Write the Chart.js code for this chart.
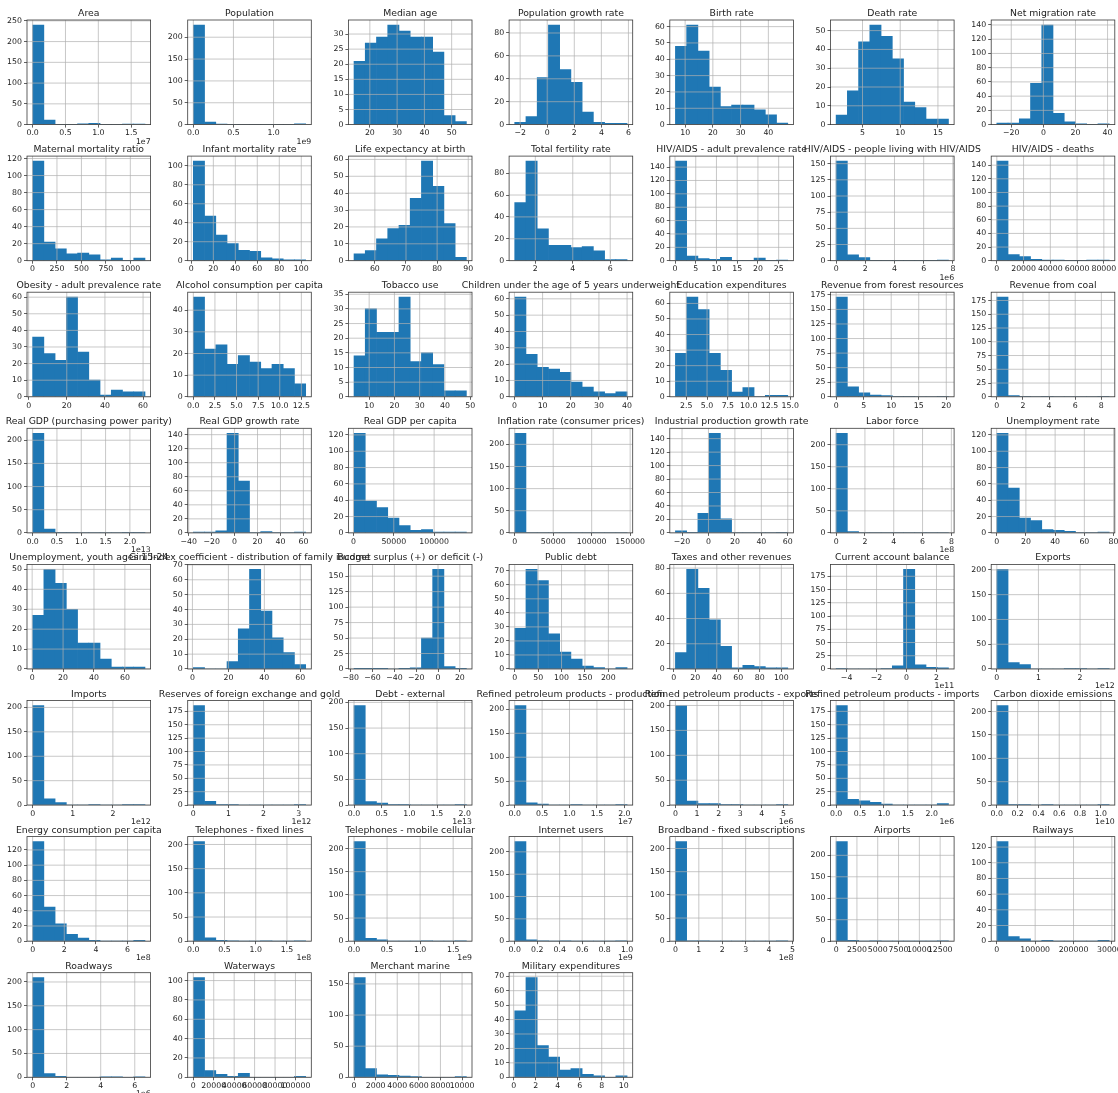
<!DOCTYPE html>
<html>
<head>
<meta charset="utf-8">
<title>Country indicators — histograms</title>
<script src="https://cdn.jsdelivr.net/npm/chart.js@4.4.1/dist/chart.umd.min.js"></script>
<style>
  html, body { margin: 0; padding: 0; background: #fff; overflow: hidden; }
  #grid { position: relative; width: 1118px; height: 1093px; overflow: hidden; background: #fff; }
  #grid canvas { position: absolute; }
</style>
</head>
<body>
<div id="grid"></div>
<script>
// ---- data: one entry per indicator, 10 equal-width bins between dataMin and dataMax ----
const titles = [
  'Area', 'Population', 'Median age', 'Population growth rate', 'Birth rate', 'Death rate', 'Net migration rate',
  'Maternal mortality ratio', 'Infant mortality rate', 'Life expectancy at birth', 'Total fertility rate',
  'HIV/AIDS - adult prevalence rate', 'HIV/AIDS - people living with HIV/AIDS', 'HIV/AIDS - deaths',
  'Obesity - adult prevalence rate', 'Alcohol consumption per capita', 'Tobacco use',
  'Children under the age of 5 years underweight', 'Education expenditures', 'Revenue from forest resources', 'Revenue from coal',
  'Real GDP (purchasing power parity)', 'Real GDP growth rate', 'Real GDP per capita', 'Inflation rate (consumer prices)',
  'Industrial production growth rate', 'Labor force', 'Unemployment rate',
  'Unemployment, youth ages 15-24', 'Gini Index coefficient - distribution of family income', 'Budget surplus (+) or deficit (-)',
  'Public debt', 'Taxes and other revenues', 'Current account balance', 'Exports',
  'Imports', 'Reserves of foreign exchange and gold', 'Debt - external', 'Refined petroleum products - production',
  'Refined petroleum products - exports', 'Refined petroleum products - imports', 'Carbon dioxide emissions',
  'Energy consumption per capita', 'Telephones - fixed lines', 'Telephones - mobile cellular', 'Internet users',
  'Broadband - fixed subscriptions', 'Airports', 'Railways',
  'Roadways', 'Waterways', 'Merchant marine', 'Military expenditures'
];

// bin counts (10 bins each)
const counts = [
  [240, 11, 0, 0, 2, 3, 0, 0, 1, 1],
  [228, 6, 1, 0, 0, 0, 0, 0, 0, 2],
  [21, 27, 29, 33, 31, 29, 29, 24, 3, 1],
  [2, 7, 41, 87, 48, 37, 11, 2, 1, 1],
  [48, 61, 45, 23, 11, 12, 12, 9, 6, 1],
  [5, 18, 44, 53, 47, 35, 12, 9, 3, 3],
  [2, 2, 8, 58, 140, 16, 4, 1, 0, 1],

  [117, 22, 14, 8, 9, 7, 1, 3, 0, 3],
  [105, 47, 27, 18, 11, 10, 3, 2, 1, 1],
  [4, 6, 13, 19, 21, 37, 59, 44, 22, 2],
  [53, 91, 29, 14, 14, 12, 13, 9, 1, 1],
  [149, 7, 3, 2, 5, 0, 0, 4, 0, 1],
  [154, 9, 5, 0, 0, 0, 0, 0, 0, 1],
  [146, 9, 6, 2, 1, 1, 0, 0, 1, 1],

  [36, 26, 22, 60, 27, 10, 1, 4, 3, 3],
  [46, 22, 24, 15, 19, 16, 13, 15, 13, 6],
  [14, 30, 22, 22, 34, 12, 15, 11, 2, 2],
  [61, 26, 18, 17, 15, 9, 6, 3, 2, 3],
  [28, 64, 56, 28, 17, 3, 6, 0, 1, 1],
  [171, 17, 7, 3, 2, 1, 1, 0, 0, 1],
  [181, 2, 1, 0, 1, 0, 0, 0, 0, 1],

  [215, 8, 1, 1, 0, 0, 0, 0, 1, 1],
  [1, 1, 3, 142, 74, 0, 2, 0, 0, 1],
  [122, 39, 31, 18, 9, 3, 4, 1, 1, 1],
  [225, 0, 0, 0, 0, 0, 0, 0, 0, 1],
  [3, 1, 29, 148, 21, 0, 0, 0, 0, 1],
  [226, 3, 0, 0, 0, 0, 1, 0, 0, 1],
  [122, 55, 18, 15, 4, 3, 2, 0, 0, 1],

  [27, 50, 43, 30, 13, 13, 5, 1, 1, 1],
  [1, 0, 0, 5, 27, 67, 39, 21, 11, 3],
  [1, 1, 1, 0, 1, 2, 50, 161, 4, 1],
  [29, 71, 63, 25, 12, 7, 2, 1, 0, 1],
  [13, 79, 64, 39, 18, 1, 3, 2, 1, 1],
  [1, 0, 0, 0, 1, 6, 188, 8, 3, 2],
  [201, 13, 9, 0, 0, 0, 1, 1, 0, 1],

  [204, 13, 5, 0, 0, 1, 0, 0, 1, 1],
  [186, 7, 1, 1, 0, 0, 0, 0, 0, 1],
  [194, 7, 4, 1, 1, 0, 0, 0, 0, 1],
  [208, 5, 2, 0, 0, 1, 0, 0, 0, 1],
  [200, 8, 3, 3, 1, 1, 0, 0, 0, 1],
  [186, 11, 8, 5, 2, 0, 0, 0, 0, 3],
  [213, 1, 1, 0, 1, 0, 0, 0, 0, 1],

  [131, 45, 23, 9, 4, 1, 0, 0, 0, 1],
  [206, 7, 2, 1, 0, 0, 1, 0, 0, 1],
  [215, 6, 3, 0, 0, 0, 1, 0, 0, 1],
  [223, 3, 1, 0, 1, 0, 0, 0, 0, 1],
  [215, 1, 1, 0, 0, 0, 0, 0, 0, 1],
  [232, 2, 0, 1, 0, 0, 0, 0, 0, 1],
  [127, 6, 3, 0, 1, 0, 0, 0, 0, 1],

  [209, 8, 2, 0, 0, 0, 1, 1, 0, 1],
  [103, 7, 3, 1, 4, 0, 0, 0, 0, 1],
  [160, 14, 4, 3, 2, 1, 0, 0, 0, 1],
  [46, 69, 22, 14, 5, 6, 2, 1, 0, 1]
];

// lower and upper edge of the binned range, in axis units (after the offset factor)
const dataMin = [
  0, 0, 14.2, -2.4, 6.5, 1.5, -29,
  1, 1.8, 53.3, 0.9, 0.1, 0, 0,
  2.1, 0, 4, 0.1, 1.2, 0, 0,
  0, -36, 700, -3, -25, 0, 0.1,
  0.3, 0.5, -77, 0, 1.5, -4.7, 0,
  0, 0, 0, 0, 0, 0, 0,
  0, 0, 0, 0, 0, 0, 0,
  0, 0, 0, 0.1
];
const dataMax = [
  1.71, 1.4, 55.4, 5.9, 47, 16.4, 41,
  1150, 104, 89.4, 6.9, 27.2, 7.7, 84000,
  61, 13, 48.5, 40, 14.7, 20.4, 8.6,
  2.31, 62, 140000, 146000, 60, 7.8, 77,
  73, 63, 26, 240, 106, 2.8, 2.7,
  2.8, 3.2, 2.03, 2.05, 5.2, 2.35, 1.08,
  7.1, 1.8, 1.7, 1.0, 4.8, 13500, 293000,
  6.6, 110000, 10400, 10.3
];

// x-axis tick values
const xTicks = [
  [0, 0.5, 1, 1.5], [0, 0.5, 1], [20, 30, 40, 50], [-2, 0, 2, 4, 6], [10, 20, 30, 40], [5, 10, 15], [-20, 0, 20, 40],
  [0, 250, 500, 750, 1000], [0, 20, 40, 60, 80, 100], [60, 70, 80, 90], [2, 4, 6], [0, 5, 10, 15, 20, 25], [0, 2, 4, 6, 8], [0, 20000, 40000, 60000, 80000],
  [0, 20, 40, 60], [0, 2.5, 5, 7.5, 10, 12.5], [10, 20, 30, 40, 50], [0, 10, 20, 30, 40], [2.5, 5, 7.5, 10, 12.5, 15], [0, 5, 10, 15, 20], [0, 2, 4, 6, 8],
  [0, 0.5, 1, 1.5, 2], [-40, -20, 0, 20, 40, 60], [0, 50000, 100000], [0, 50000, 100000, 150000], [-20, 0, 20, 40, 60], [0, 2, 4, 6, 8], [0, 20, 40, 60, 80],
  [0, 20, 40, 60], [0, 20, 40, 60], [-80, -60, -40, -20, 0, 20], [0, 50, 100, 150, 200], [0, 20, 40, 60, 80, 100], [-4, -2, 0, 2], [0, 1, 2],
  [0, 1, 2], [0, 1, 2, 3], [0, 0.5, 1, 1.5, 2], [0, 0.5, 1, 1.5, 2], [0, 1, 2, 3, 4, 5], [0, 0.5, 1, 1.5, 2], [0, 0.2, 0.4, 0.6, 0.8, 1],
  [0, 2, 4, 6], [0, 0.5, 1, 1.5], [0, 0.5, 1, 1.5], [0, 0.2, 0.4, 0.6, 0.8, 1], [0, 1, 2, 3, 4, 5], [0, 2500, 5000, 7500, 10000, 12500], [0, 100000, 200000, 300000],
  [0, 2, 4, 6], [0, 20000, 40000, 60000, 80000, 100000], [0, 2000, 4000, 6000, 8000, 10000], [0, 2, 4, 6, 8, 10]
];

// y-axis tick spacing
const yStep = [
  50, 50, 5, 20, 10, 10, 20,
  20, 20, 10, 20, 20, 25, 20,
  10, 10, 5, 10, 10, 25, 25,
  50, 20, 20, 50, 20, 50, 20,
  10, 10, 25, 10, 20, 25, 50,
  50, 25, 50, 50, 50, 25, 50,
  20, 50, 50, 50, 50, 50, 20,
  50, 20, 50, 10
];

// scale factor printed under the x axis
const offsetLabels = [
  '1e7', '1e9', '', '', '', '', '',
  '', '', '', '', '', '1e6', '',
  '', '', '', '', '', '', '',
  '1e13', '', '', '', '', '1e8', '',
  '', '', '', '', '', '1e11', '1e12',
  '1e12', '1e12', '1e13', '1e7', '1e6', '1e6', '1e10',
  '1e8', '1e8', '1e9', '1e9', '1e8', '', '',
  '1e6', '', '', ''
];

// ---- layout & style ----
const COLS = 7;
const AX_LEFT0 = 27, COL_PITCH = 160.7, AX_W = 123.6;
const AX_TOP0 = 20, ROW_PITCH = 136.1, AX_H = 104.6;
const SIDE = 62, TOP_SPACE = 17, BOTTOM_SPACE = 28;
const Y_AXIS_W = 30, X_AXIS_H = 19;
const BAR = '#1f77b4', GRID = '#b0b0b0', SPINE = '#3a3a3a', TEXT = '#222';
const TITLE_FS = 9.3, TICK_FS = 7.8;
const FONT = "'DejaVu Sans', sans-serif";

Chart.defaults.font.family = FONT;

function tickText(vals) {
  const dec = vals.some(v => Math.abs(v - Math.round(v)) > 1e-9) ? 1 : 0;
  return vals.map(v => v.toFixed(dec).replace('-', '\u2212'));
}

// grid drawn over the bars, axes frame, title and offset factor
const histDecor = {
  id: 'histDecor',
  afterDatasetsDraw(chart) {
    const { ctx, chartArea: a, scales: { x, y } } = chart;
    ctx.save();
    ctx.beginPath();
    ctx.rect(a.left, a.top, a.right - a.left, a.bottom - a.top);
    ctx.clip();
    ctx.strokeStyle = GRID;
    ctx.lineWidth = 0.7;
    ctx.beginPath();
    x.ticks.forEach(t => {
      const px = x.getPixelForValue(t.value);
      ctx.moveTo(px, a.top); ctx.lineTo(px, a.bottom);
    });
    y.ticks.forEach(t => {
      const py = y.getPixelForValue(t.value);
      ctx.moveTo(a.left, py); ctx.lineTo(a.right, py);
    });
    ctx.stroke();
    ctx.restore();

    ctx.save();
    ctx.strokeStyle = SPINE;
    ctx.lineWidth = 0.8;
    ctx.strokeRect(a.left, a.top, a.right - a.left, a.bottom - a.top);
    ctx.restore();
  },
  afterDraw(chart, args, opts) {
    const { ctx, chartArea: a } = chart;
    ctx.save();
    ctx.fillStyle = TEXT;
    ctx.font = TITLE_FS + 'px ' + FONT;
    ctx.textAlign = 'center';
    ctx.textBaseline = 'alphabetic';
    ctx.fillText(opts.title, (a.left + a.right) / 2, a.top - 4);
    if (opts.offset) {
      ctx.font = TICK_FS + 'px ' + FONT;
      ctx.textAlign = 'right';
      ctx.textBaseline = 'middle';
      ctx.fillText(opts.offset, a.right, a.bottom + 17);
    }
    ctx.restore();
  }
};

const host = document.getElementById('grid');

titles.forEach((title, i) => {
  const r = Math.floor(i / COLS), c = i % COLS;
  const axLeft = AX_LEFT0 + c * COL_PITCH;
  const axTop = AX_TOP0 + r * ROW_PITCH;
  const cvLeft = Math.floor(axLeft - SIDE);
  const cvTop = Math.floor(axTop - TOP_SPACE);
  const cvW = Math.ceil(AX_W + 2 * SIDE) + 2;
  const cvH = Math.ceil(TOP_SPACE + AX_H + BOTTOM_SPACE) + 2;
  const padLeft = axLeft - cvLeft - Y_AXIS_W;
  const padTop = axTop - cvTop;
  const padRight = cvW - (axLeft - cvLeft) - AX_W;
  const padBottom = cvH - padTop - AX_H - X_AXIS_H;

  const cv = document.createElement('canvas');
  cv.width = cvW; cv.height = cvH;
  cv.style.left = cvLeft + 'px'; cv.style.top = cvTop + 'px';
  cv.style.width = cvW + 'px'; cv.style.height = cvH + 'px';
  host.appendChild(cv);

  const lo = dataMin[i], hi = dataMax[i], span = hi - lo, bw = span / 10;
  const xMin = lo - 0.05 * span, xMax = hi + 0.05 * span;
  const xt = xTicks[i].filter(v => v >= xMin && v <= xMax);
  const xl = tickText(xt);
  const yMax = Math.max(...counts[i]) * 1.05;
  const yt = [];
  for (let v = 0; v <= yMax; v += yStep[i]) yt.push(v);

  new Chart(cv, {
    type: 'bar',
    data: {
      datasets: [{
        data: counts[i].map((n, k) => ({ x: lo + (k + 0.5) * bw, y: n })),
        backgroundColor: BAR,
        borderWidth: 0,
        barPercentage: 1,
        categoryPercentage: 1
      }]
    },
    options: {
      responsive: false,
      animation: false,
      devicePixelRatio: 1,
      events: [],
      layout: { padding: { left: padLeft, right: padRight, top: padTop, bottom: padBottom } },
      plugins: {
        legend: { display: false },
        tooltip: { enabled: false },
        title: { display: false },
        histDecor: { title: title, offset: offsetLabels[i] }
      },
      scales: {
        x: {
          type: 'linear',
          offset: false,
          min: xMin,
          max: xMax,
          border: { display: false },
          grid: { offset: false, drawOnChartArea: false, drawTicks: true, tickLength: 3, tickColor: SPINE, lineWidth: 0.8 },
          ticks: {
            font: { size: TICK_FS }, color: TEXT, padding: 1,
            maxRotation: 0, minRotation: 0, autoSkip: false,
            callback: (v, k) => xl[k]
          },
          afterBuildTicks: s => { s.ticks = xt.map(v => ({ value: v })); },
          afterFit: s => { s.height = X_AXIS_H; }
        },
        y: {
          type: 'linear',
          min: 0,
          max: yMax,
          border: { display: false },
          grid: { drawOnChartArea: false, drawTicks: true, tickLength: 3, tickColor: SPINE, lineWidth: 0.8 },
          ticks: {
            font: { size: TICK_FS }, color: TEXT, padding: 2,
            autoSkip: false,
            callback: v => String(Math.round(v))
          },
          afterBuildTicks: s => { s.ticks = yt.map(v => ({ value: v })); },
          afterFit: s => { s.width = Y_AXIS_W; }
        }
      }
    },
    plugins: [histDecor]
  });
});
</script>
</body>
</html>
